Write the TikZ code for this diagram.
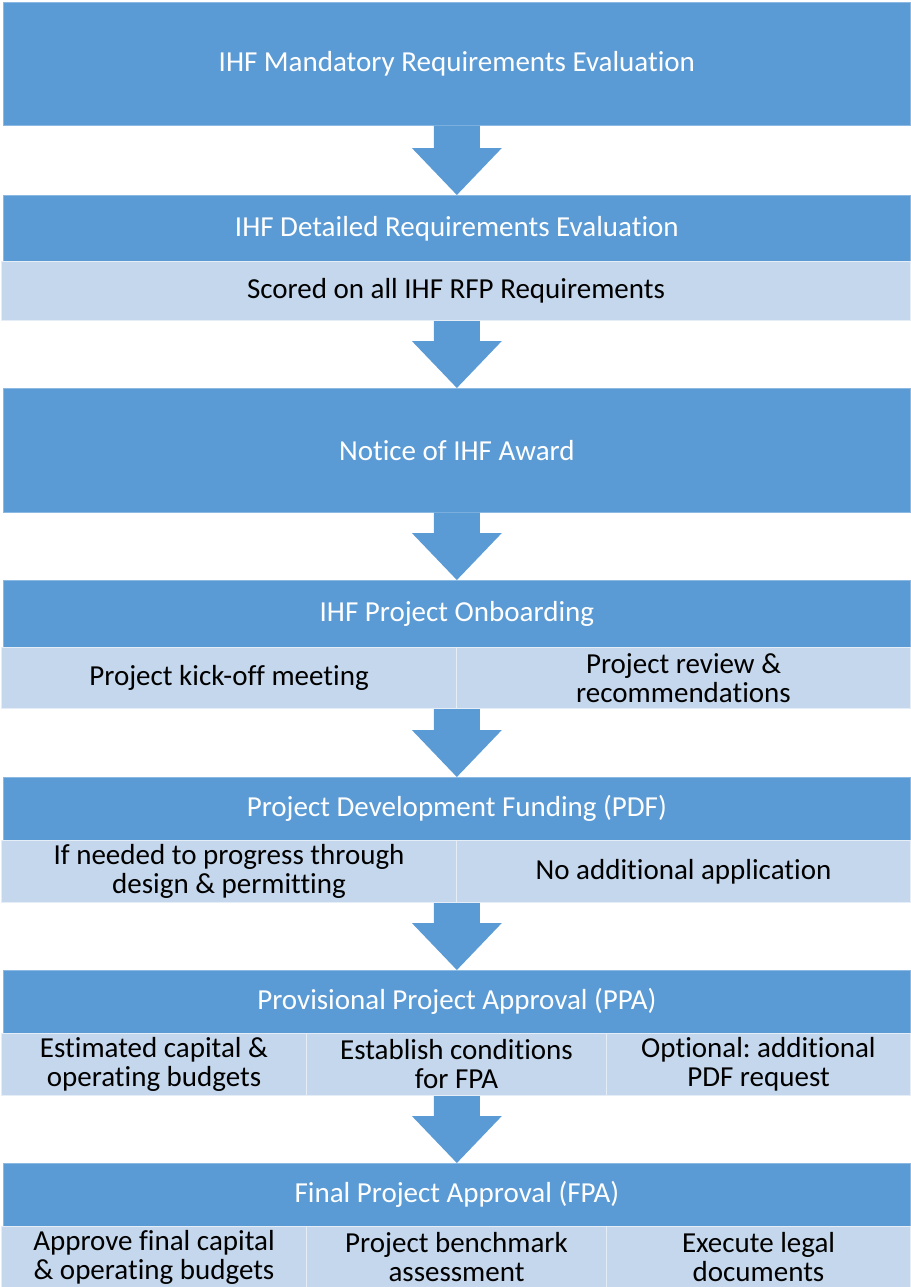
\documentclass[tikz,border=0pt]{standalone}
\usepackage{fontspec}
\setmainfont{Carlito}[Ligatures={NoCommon}]
\frenchspacing
\usetikzlibrary{calc}
\definecolor{hdrblue}{HTML}{5B9BD5}
\definecolor{rowblue}{HTML}{C5D7EC}
% block arrow from the bottom of one box to the top of the next
\newcommand{\flowarrow}[2]{%
	\fill [hdrblue] ($(#1.south -| #2.north)+(-23,0)$) -- ($(#2.north)+(-23,-47)$) -- ($(#2.north)+(-45,-47)$)
		-- (#2.north) -- ($(#2.north)+(45,-47)$) -- ($(#2.north)+(23,-47)$) -- ($(#1.south -| #2.north)+(23,0)$) -- cycle;}
\begin{document}
\begin{tikzpicture}[x=1pt, y=-1pt,
	hdr/.style={anchor=north west, fill=hdrblue, draw=hdrblue!70!white, line width=0.7pt, text=white, inner sep=0pt,
		minimum width=907pt, font=\fontsize{29}{29}\selectfont},
	cell/.style={anchor=north west, fill=rowblue, draw=white!55!rowblue, line width=1pt, text=black, inner sep=0pt,
		align=center, font=\fontsize{29}{29}\selectfont}]
	\useasboundingbox (0,0) rectangle (910,1287);
	\node [hdr, minimum height=123pt] (mand) at (3,2) {IHF Mandatory Requirements Evaluation};
	\node [hdr, minimum height=66pt]  (det)  at (3,195) {IHF Detailed Requirements Evaluation};
	\node [cell, minimum width=909pt, minimum height=59pt] (score) at (1,261) {Scored on all IHF RFP Requirements};
	\node [hdr, minimum height=124pt] (award) at (3,388) {Notice of IHF Award};
	\node [hdr, minimum height=67pt]  (onb)  at (3,580) {IHF Project Onboarding};
	\node [cell, minimum width=455pt, minimum height=61pt] (kick) at (1,647) {Project kick-off meeting};
	\node [cell, minimum width=454pt, minimum height=61pt] (rev)  at (456,647) {Project review \&\\recommendations};
	\node [hdr, minimum height=63pt]  (pdf)  at (3,777) {Project Development Funding (PDF)};
	\node [cell, minimum width=455pt, minimum height=62pt] (need) at (1,840) {If needed to progress through\\design \& permitting};
	\node [cell, minimum width=454pt, minimum height=62pt] (noap) at (456,840) {No additional application};
	\node [hdr, minimum height=63pt]  (ppa)  at (3,970) {Provisional Project Approval (PPA)};
	\node [cell, minimum width=305pt, minimum height=62pt] (est)  at (1,1033) {Estimated capital \&\\operating budgets};
	\node [cell, minimum width=300pt, minimum height=62pt] (cond) at (306,1033) {Establish conditions\\for FPA};
	\node [cell, minimum width=304pt, minimum height=62pt] (opt)  at (606,1033) {Optional: additional\\PDF request};
	\node [hdr, minimum height=63pt]  (fpa)  at (3,1163) {Final Project Approval (FPA)};
	\node [cell, minimum width=305pt, minimum height=62pt] (appr) at (1,1226) {Approve final capital\\\& operating budgets};
	\node [cell, minimum width=300pt, minimum height=62pt] (bench) at (306,1226) {Project benchmark\\assessment};
	\node [cell, minimum width=304pt, minimum height=62pt] (legal) at (606,1226) {Execute legal\\documents};
	\flowarrow{mand}{det}
	\flowarrow{score}{award}
	\flowarrow{award}{onb}
	\flowarrow{kick}{pdf}
	\flowarrow{need}{ppa}
	\flowarrow{est}{fpa}
\end{tikzpicture}
\end{document}
